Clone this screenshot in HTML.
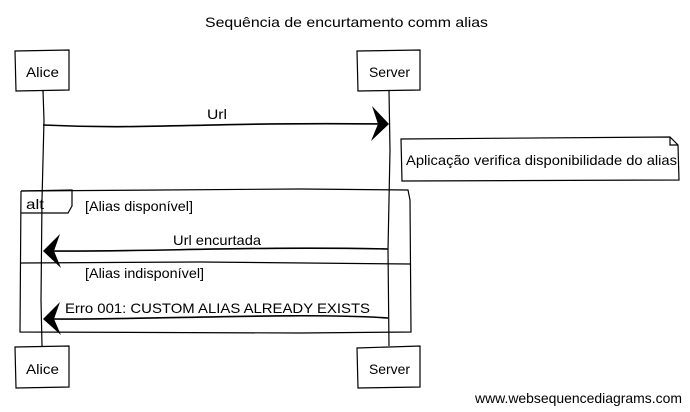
<!DOCTYPE html>
<html><head><meta charset="utf-8"><style>
html,body{margin:0;padding:0;background:#fff;width:690px;height:412px;overflow:hidden}
svg text{font-family:"Liberation Sans","DejaVu Sans",sans-serif;font-size:14px;fill:#000}
</style></head><body>
<svg width="690" height="412" viewBox="0 0 690 412" xmlns="http://www.w3.org/2000/svg">
<text x="205" y="27" textLength="283" lengthAdjust="spacingAndGlyphs">Sequência de encurtamento comm alias</text>
<g fill="none" stroke="#000" stroke-width="1.2">
<path d="M43 91 L44 120 L42 200 L41 300 L42 346"/>
<path d="M389 91 L390 150 L388 250 L389 346"/>
<path d="M15 51 L69 50 L69 90 L16 91 Z" fill="#fff"/>
<path d="M357 51 L420 50 L420 90 L358 91 Z" fill="#fff"/>
<path d="M15 347 L69 346 L69 387 L16 388 Z" fill="#fff"/>
<path d="M357 348 L420 346 L420 387 L358 388 Z" fill="#fff"/>
<path d="M21 191 L300 189 L408 190 L410 200 L411 332 L300 333 L20 332 L21 191"/>
<path d="M21 191 L72 190 L72 206 L68 213 L21 213"/>
<path d="M21 263 L200 262 L410 264"/>
<path d="M401 139 L670 137 L678 145 L679 180 L402 181 Z" fill="#fff"/>
<path d="M670 137 L670 145 L678 145"/>
<path d="M43 125 C150 130 200 122 385 124" stroke-width="1.6"/>
<path d="M388 249 C250 246 150 252 48 251" stroke-width="1.6"/>
<path d="M388 318 C300 312 150 320 48 319" stroke-width="1.6"/>
</g>
<g fill="#000">
<path d="M389 124 L372 106 L378 124 L371 141 Z"/>
<path d="M43 251 L60 234 L54 251 L61 268 Z"/>
<path d="M43 319 L60 302 L54 319 L61 335 Z"/>
</g>
<text x="26" y="77" textLength="33" lengthAdjust="spacingAndGlyphs">Alice</text>
<text x="369" y="77" textLength="41" lengthAdjust="spacingAndGlyphs">Server</text>
<text x="26" y="374" textLength="33" lengthAdjust="spacingAndGlyphs">Alice</text>
<text x="369" y="374" textLength="41" lengthAdjust="spacingAndGlyphs">Server</text>
<text x="207" y="119" textLength="20" lengthAdjust="spacingAndGlyphs">Url</text>
<text x="406" y="165" textLength="271" lengthAdjust="spacingAndGlyphs">Aplicação verifica disponibilidade do alias</text>
<text x="26" y="209" textLength="18" lengthAdjust="spacingAndGlyphs">alt</text>
<text x="85" y="211" textLength="108" lengthAdjust="spacingAndGlyphs">[Alias disponível]</text>
<text x="173" y="245" textLength="88" lengthAdjust="spacingAndGlyphs">Url encurtada</text>
<text x="85" y="278" textLength="119" lengthAdjust="spacingAndGlyphs">[Alias indisponível]</text>
<text x="65" y="313" textLength="305" lengthAdjust="spacingAndGlyphs">Erro 001: CUSTOM ALIAS ALREADY EXISTS</text>
<text x="475" y="403" textLength="207" lengthAdjust="spacingAndGlyphs" font-size="13">www.websequencediagrams.com</text>
</svg>
</body></html>
